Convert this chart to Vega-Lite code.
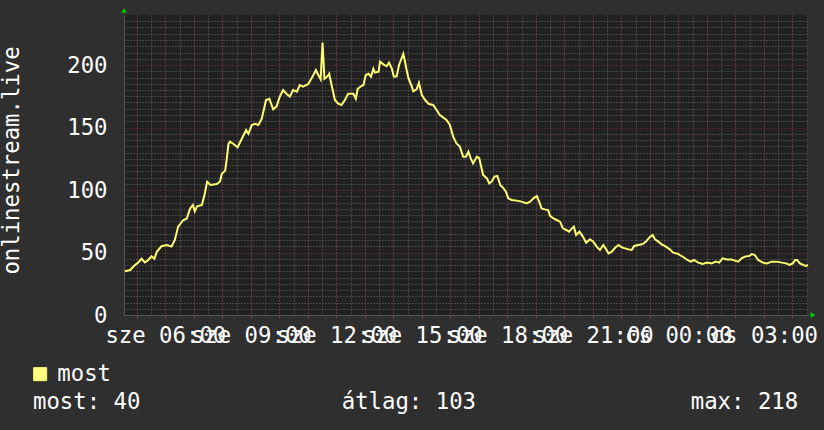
{
  "$schema": "https://vega.github.io/schema/vega-lite/v6.json",
  "width": 684,
  "height": 300,
  "autosize": "none",
  "padding": {"left": 124, "top": 15, "right": 16, "bottom": 115},
  "background": "#2f2f2f",
  "view": {"fill": "#212121", "stroke": null},
  "config": {
    "font": "DejaVu Sans Mono",
    "axis": {"labelFont": "DejaVu Sans Mono", "labelFontSize": 22.3, "labelColor": "#ffffff", "titleFont": "DejaVu Sans Mono", "titleFontSize": 22.3, "titleFontWeight": "normal", "titleColor": "#ffffff"},
    "legend": {"labelFont": "DejaVu Sans Mono", "labelFontSize": 22.3, "labelColor": "#ffffff", "titleFont": "DejaVu Sans Mono", "titleFontSize": 22.3, "titleFontWeight": "normal", "titleColor": "#ffffff"}
  },
  "data": {"values": [
    {"t":275,"v":35},{"t":286,"v":36},{"t":296,"v":40},{"t":303,"v":42},{"t":310,"v":45},{"t":317,"v":42},{"t":324,"v":44},{"t":331,"v":47},{"t":337,"v":45},{"t":342,"v":50.6},
    {"t":352,"v":55},{"t":363,"v":56},{"t":373,"v":54.7},{"t":380,"v":60},{"t":387,"v":70.7},{"t":398,"v":76},{"t":405,"v":77},{"t":412,"v":85},{"t":418,"v":88},{"t":422,"v":83},
    {"t":427,"v":87},{"t":437,"v":88},{"t":443,"v":97},{"t":448,"v":106.6},{"t":455,"v":104},{"t":468,"v":104.8},{"t":475,"v":106.6},{"t":479,"v":113},{"t":486,"v":115.5},{"t":489,"v":124},
    {"t":493,"v":137},{"t":496,"v":138.7},{"t":503,"v":137},{"t":512,"v":134},{"t":521,"v":141},{"t":530,"v":148},{"t":535,"v":145},{"t":542,"v":152},{"t":549,"v":153},{"t":556,"v":152},
    {"t":563,"v":157},{"t":572,"v":172},{"t":579,"v":173},{"t":587,"v":164.5},{"t":594,"v":166.7},{"t":601,"v":174.7},{"t":608,"v":180},{"t":615,"v":177},{"t":622,"v":174.7},{"t":629,"v":180},
    {"t":637,"v":178.7},{"t":643,"v":184},{"t":650,"v":182.7},{"t":661,"v":184.8},{"t":670,"v":190.7},{"t":677,"v":196},{"t":682,"v":192},{"t":687,"v":188.5},{"t":691,"v":218},{"t":695,"v":189},
    {"t":701,"v":190.7},{"t":705,"v":193},{"t":710,"v":184},{"t":717,"v":172},{"t":724,"v":169},{"t":731,"v":168},{"t":738,"v":172},{"t":745,"v":177},{"t":756,"v":177},{"t":761,"v":173},
    {"t":765,"v":181},{"t":772,"v":183},{"t":777,"v":184},{"t":782,"v":192},{"t":788,"v":193},{"t":793,"v":190.7},{"t":798,"v":197},{"t":801,"v":194},{"t":809,"v":194.7},{"t":812,"v":202.7},
    {"t":819,"v":200.5},{"t":826,"v":199},{"t":831,"v":202},{"t":837,"v":197},{"t":841,"v":190.7},{"t":847,"v":191},{"t":852,"v":200},{"t":856,"v":204},{"t":861,"v":208.8},{"t":865,"v":202},
    {"t":868,"v":196},{"t":872,"v":189.3},{"t":879,"v":182.7},{"t":882,"v":179},{"t":889,"v":180.5},{"t":894,"v":185.8},{"t":900,"v":176},{"t":907,"v":172},{"t":915,"v":168.8},{"t":924,"v":168},
    {"t":931,"v":164},{"t":938,"v":160},{"t":945,"v":158},{"t":952,"v":156},{"t":959,"v":152},{"t":966,"v":142.7},{"t":973,"v":137.3},{"t":980,"v":134.7},{"t":987,"v":126.7},{"t":993,"v":126.7},
    {"t":998,"v":130.7},{"t":1003,"v":125.3},{"t":1008,"v":121.3},{"t":1016,"v":126.7},{"t":1021,"v":125.3},{"t":1029,"v":112},{"t":1037,"v":109.3},{"t":1042,"v":105.3},{"t":1047,"v":106.7},{"t":1053,"v":110.7},
    {"t":1059,"v":111.2},{"t":1065,"v":104},{"t":1072,"v":101.3},{"t":1077,"v":98.7},{"t":1082,"v":93.3},{"t":1089,"v":92},{"t":1100,"v":91.5},{"t":1110,"v":90.7},{"t":1121,"v":89.3},{"t":1128,"v":90.7},
    {"t":1135,"v":93.3},{"t":1142,"v":95.2},{"t":1147,"v":90.7},{"t":1152,"v":85.3},{"t":1159,"v":84.5},{"t":1166,"v":84},{"t":1170,"v":79.2},{"t":1177,"v":77.3},{"t":1184,"v":76},{"t":1191,"v":74.7},
    {"t":1197,"v":69.3},{"t":1204,"v":68},{"t":1210,"v":66.7},{"t":1216,"v":69.3},{"t":1220,"v":70.7},{"t":1225,"v":64},{"t":1232,"v":66.7},{"t":1239,"v":62.7},{"t":1246,"v":57.9},{"t":1254,"v":60.5},
    {"t":1261,"v":58.7},{"t":1268,"v":54.7},{"t":1275,"v":52},{"t":1282,"v":56},{"t":1288,"v":52.5},{"t":1293,"v":49.3},{"t":1300,"v":50.7},{"t":1307,"v":53.9},{"t":1314,"v":56},{"t":1321,"v":54.1},
    {"t":1328,"v":53.3},{"t":1335,"v":52.5},{"t":1342,"v":52},{"t":1347,"v":55.2},{"t":1356,"v":56},{"t":1365,"v":56.8},{"t":1372,"v":58.7},{"t":1379,"v":62.1},{"t":1386,"v":64},{"t":1391,"v":60.5},
    {"t":1398,"v":58.7},{"t":1405,"v":56.5},{"t":1414,"v":54.7},{"t":1422,"v":52.5},{"t":1429,"v":49.9},{"t":1440,"v":48.8},{"t":1443,"v":48},{"t":1452,"v":46},{"t":1459,"v":44},{"t":1466,"v":42.7},
    {"t":1473,"v":44},{"t":1482,"v":41.9},{"t":1491,"v":40.8},{"t":1501,"v":41.9},{"t":1510,"v":41.3},{"t":1519,"v":42.7},{"t":1526,"v":41.9},{"t":1533,"v":45.3},{"t":1542,"v":44.5},{"t":1552,"v":44.5},
    {"t":1559,"v":43.5},{"t":1566,"v":42.7},{"t":1573,"v":45.3},{"t":1580,"v":46.7},{"t":1589,"v":47.2},{"t":1595,"v":48.8},{"t":1601,"v":48},{"t":1608,"v":44},{"t":1618,"v":41.9},{"t":1626,"v":41.3},
    {"t":1637,"v":42.7},{"t":1647,"v":42.7},{"t":1658,"v":41.9},{"t":1667,"v":41.3},{"t":1674,"v":40},{"t":1681,"v":41.3},{"t":1686,"v":44},{"t":1690,"v":44},{"t":1696,"v":41.3},{"t":1703,"v":40},
    {"t":1709,"v":39.2},{"t":1713,"v":40}
  ]},
  "layer": [
    {
      "mark": {"type": "line", "opacity": 0},
      "encoding": {
        "x": {"field": "t", "type": "quantitative", "scale": {"domain": [273, 1713], "nice": false, "zero": false},
          "axis": {"orient": "bottom", "values": [300,330,360,390,420,450,480,510,540,570,600,630,660,690,720,750,780,810,840,870,900,930,960,990,1020,1050,1080,1110,1140,1170,1200,1230,1260,1290,1320,1350,1380,1410,1440,1470,1500,1530,1560,1590,1620,1650,1680,1710],
            "grid": true, "gridColor": "#6a6a6a", "gridDash": [1, 2], "gridWidth": 1, "labels": false, "ticks": false, "domain": false, "title": null}},
        "y": {"field": "v", "type": "quantitative", "scale": {"domain": [0, 240], "nice": false, "zero": true},
          "axis": {"orient": "left", "values": [5,10,15,20,25,30,35,40,45,55,60,65,70,75,80,85,90,95,105,110,115,120,125,130,135,140,145,155,160,165,170,175,180,185,190,195,205,210,215,220,225,230,235],
            "grid": true, "gridColor": "#6a6a6a", "gridDash": [1, 2], "gridWidth": 1, "labels": false, "ticks": false, "domain": false, "title": null}}
      }
    },
    {
      "mark": {"type": "line", "strokeWidth": 2, "interpolate": "linear"},
      "encoding": {
        "x": {"field": "t", "type": "quantitative",
          "axis": {"orient": "bottom", "values": [300,360,420,480,540,600,660,720,780,840,900,960,1020,1080,1140,1200,1260,1320,1380,1440,1500,1560,1620,1680],
            "grid": true, "gridColor": "#7a3232", "gridDash": [1, 2], "gridWidth": 1,
            "ticks": true, "tickColor": "#8c3434", "tickSize": 3, "domain": true, "domainColor": "#555555",
            "labelPadding": 6, "labelOverlap": false, "labelFlush": false, "labelBound": false,
            "labelExpr": "datum.value % 180 != 0 ? '' : (datum.value < 1440 ? 'sze ' : 'cs ') + ((floor(datum.value/60) % 24) < 10 ? '0' : '') + (floor(datum.value/60) % 24) + ':00'",
            "title": null}},
        "y": {"field": "v", "type": "quantitative",
          "axis": {"orient": "left", "values": [0, 50, 100, 150, 200],
            "grid": true, "gridColor": "#7a3232", "gridDash": [1, 2], "gridWidth": 1,
            "ticks": false, "domain": true, "domainColor": "#555555", "labelPadding": 17, "labelOverlap": false,
            "title": "onlinestream.live", "titleX": -106, "titleY": 145, "titleAngle": 270, "titleAlign": "center", "titleBaseline": "alphabetic"}},
        "color": {"datum": "most", "type": "nominal", "scale": {"range": ["#ffff70"]},
          "legend": {"orient": "none", "legendX": -91, "legendY": 348, "padding": 0,
            "symbolType": "square", "symbolSize": 169, "symbolOffset": -4, "labelOffset": 6,
            "title": "most: 40\u00a0\u00a0\u00a0\u00a0\u00a0\u00a0\u00a0\u00a0\u00a0\u00a0\u00a0\u00a0\u00a0\u00a0\u00a0átlag: 103\u00a0\u00a0\u00a0\u00a0\u00a0\u00a0\u00a0\u00a0\u00a0\u00a0\u00a0\u00a0\u00a0\u00a0\u00a0\u00a0max: 218",
            "titleOrient": "bottom", "titleAnchor": "start", "titleAlign": "left", "titlePadding": 6, "titleLimit": 1000,
            "encode": {"symbols": {"update": {"fill": {"value": "#ffff80"}, "stroke": {"value": "#000000"}, "strokeWidth": {"value": 1}, "opacity": {"value": 1}}}}}}
      }
    },
    {
      "data": {"values": [{}]},
      "mark": {"type": "point", "shape": "triangle-up", "filled": true, "color": "#00d000", "size": 30, "opacity": 1, "yOffset": -4.5},
      "encoding": {
        "x": {"datum": 273, "type": "quantitative", "axis": null},
        "y": {"datum": 240, "type": "quantitative", "axis": null}
      }
    },
    {
      "data": {"values": [{}]},
      "mark": {"type": "point", "shape": "triangle-right", "filled": true, "color": "#00d000", "size": 30, "opacity": 1, "xOffset": 5},
      "encoding": {
        "x": {"datum": 1713, "type": "quantitative", "axis": null},
        "y": {"datum": 0, "type": "quantitative", "axis": null}
      }
    }
  ],
  "resolve": {"axis": {"x": "independent", "y": "independent"}}
}
